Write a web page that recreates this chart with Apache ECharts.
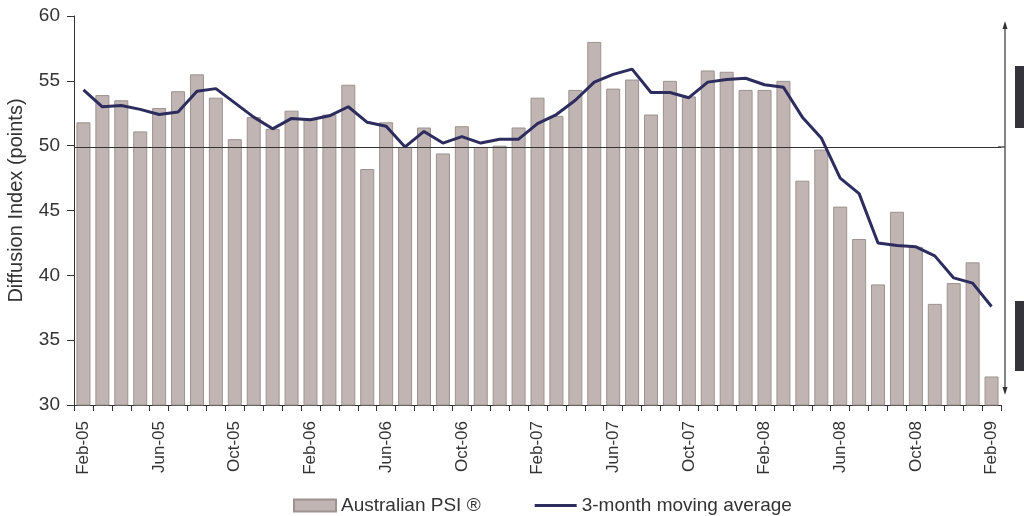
<!DOCTYPE html>
<html>
<head>
<meta charset="utf-8">
<script src="https://cdn.jsdelivr.net/npm/echarts@6/dist/echarts.min.js"></script>
<style>
html,body{margin:0;padding:0;background:#fff;}
#main{width:1024px;height:516px;}
</style>
</head>
<body>
<div id="main"></div>
<script>
// months, Feb-05 .. Feb-09
var months = ['Feb-05','Mar-05','Apr-05','May-05','Jun-05','Jul-05','Aug-05','Sep-05','Oct-05','Nov-05','Dec-05','Jan-06',
	'Feb-06','Mar-06','Apr-06','May-06','Jun-06','Jul-06','Aug-06','Sep-06','Oct-06','Nov-06','Dec-06','Jan-07',
	'Feb-07','Mar-07','Apr-07','May-07','Jun-07','Jul-07','Aug-07','Sep-07','Oct-07','Nov-07','Dec-07','Jan-08',
	'Feb-08','Mar-08','Apr-08','May-08','Jun-08','Jul-08','Aug-08','Sep-08','Oct-08','Nov-08','Dec-08','Jan-09','Feb-09'];

var psi = [51.8,53.9,53.5,51.1,52.9,54.2,55.5,53.7,50.5,52.2,51.3,52.7,
	52.1,52.4,54.7,48.2,51.8,49.9,51.4,49.4,51.5,49.9,50.0,51.4,
	53.7,52.3,54.3,58.0,54.4,55.1,52.4,55.0,53.8,55.8,55.7,54.3,
	54.3,55.0,47.3,49.7,45.3,42.8,39.3,44.9,42.2,37.8,39.4,41.0,32.2];

var movAvg = [54.3,53.0,53.1,52.8,52.4,52.6,54.2,54.4,53.3,52.2,51.3,52.1,
	52.0,52.3,53.0,51.8,51.5,49.9,51.1,50.2,50.7,50.2,50.5,50.5,
	51.7,52.4,53.5,54.9,55.5,55.9,54.1,54.1,53.7,54.9,55.1,55.2,
	54.7,54.5,52.2,50.6,47.5,46.3,42.5,42.3,42.2,41.5,39.8,39.4,37.6];

var yTicks = [30,35,40,45,50,55,60];
var baseLevel = 49.85;

var txt = '#333';
var font = '"Liberation Sans", Arial, sans-serif';

var myChart = echarts.init(document.getElementById('main'));
var option = {
	animation:false,
	textStyle:{fontFamily:font},
	grid:{left:74,right:23,top:16,bottom:111,containLabel:false,outerBoundsMode:'none'},
	legend:{
		left:288,top:491,itemWidth:42,itemHeight:12,itemGap:54,symbolKeepAspect:true,
		textStyle:{color:txt,fontSize:19,fontFamily:font},
		data:[
			{name:'Australian PSI ®',icon:'rect'},
			{name:'3-month moving average',icon:'path://M0,0h42v3h-42z'}
		]
	},
	xAxis:[{
		type:'category',
		data:months,
		axisLine:{lineStyle:{color:txt,width:1}},
		axisTick:{show:true,interval:0,length:6,lineStyle:{color:txt}},
		axisLabel:{interval:3,rotate:90,margin:16,color:txt,fontSize:17,fontFamily:font}
	}],
	yAxis:[{
		type:'value',
		min:yTicks[0],max:yTicks[yTicks.length-1],interval:5,
		name:'Diffusion Index (points)',
		nameLocation:'middle',nameGap:48,
		nameTextStyle:{color:txt,fontSize:20,fontFamily:font,padding:[0,0,0,20]},
		axisLine:{show:true,lineStyle:{color:txt,width:1}},
		axisTick:{show:true,length:7,lineStyle:{color:txt}},
		axisLabel:{color:txt,fontSize:19,margin:14,fontFamily:font},
		splitLine:{show:false}
	}],
	series:[
		{
			name:'Australian PSI ®',
			type:'bar',
			barWidth:14,
			itemStyle:{color:'#c0b5b3',borderColor:'#9d9290',borderWidth:1},
			data:psi,
			markLine:{
				silent:true,symbol:'none',label:{show:false},
				lineStyle:{color:'#333',width:1.2,type:'solid'},
				data:[{yAxis:baseLevel}]
			}
		},
		{
			name:'3-month moving average',
			type:'line',
			symbol:'none',
			lineStyle:{color:'#2d2c5e',width:3},
			itemStyle:{color:'#2d2c5e'},
			data:movAvg,
			z:5
		}
	],
	graphic:[
		{type:'line',shape:{x1:998,y1:147,x2:1005,y2:147},style:{stroke:'#333',lineWidth:1.2}},
		{type:'line',shape:{x1:1005,y1:24,x2:1005,y2:392},style:{stroke:'#444',lineWidth:1.3}},
		{type:'polygon',shape:{points:[[1005,21],[1002.5,29],[1007.5,29]]},style:{fill:'#333'}},
		{type:'polygon',shape:{points:[[1005,395],[1002.5,387],[1007.5,387]]},style:{fill:'#333'}},
		{type:'rect',shape:{x:1015,y:66,width:9,height:62},style:{fill:'#34333a'}},
		{type:'rect',shape:{x:1015,y:301,width:9,height:70},style:{fill:'#34333a'}}
	]
};
myChart.setOption(option);
</script>
</body>
</html>
